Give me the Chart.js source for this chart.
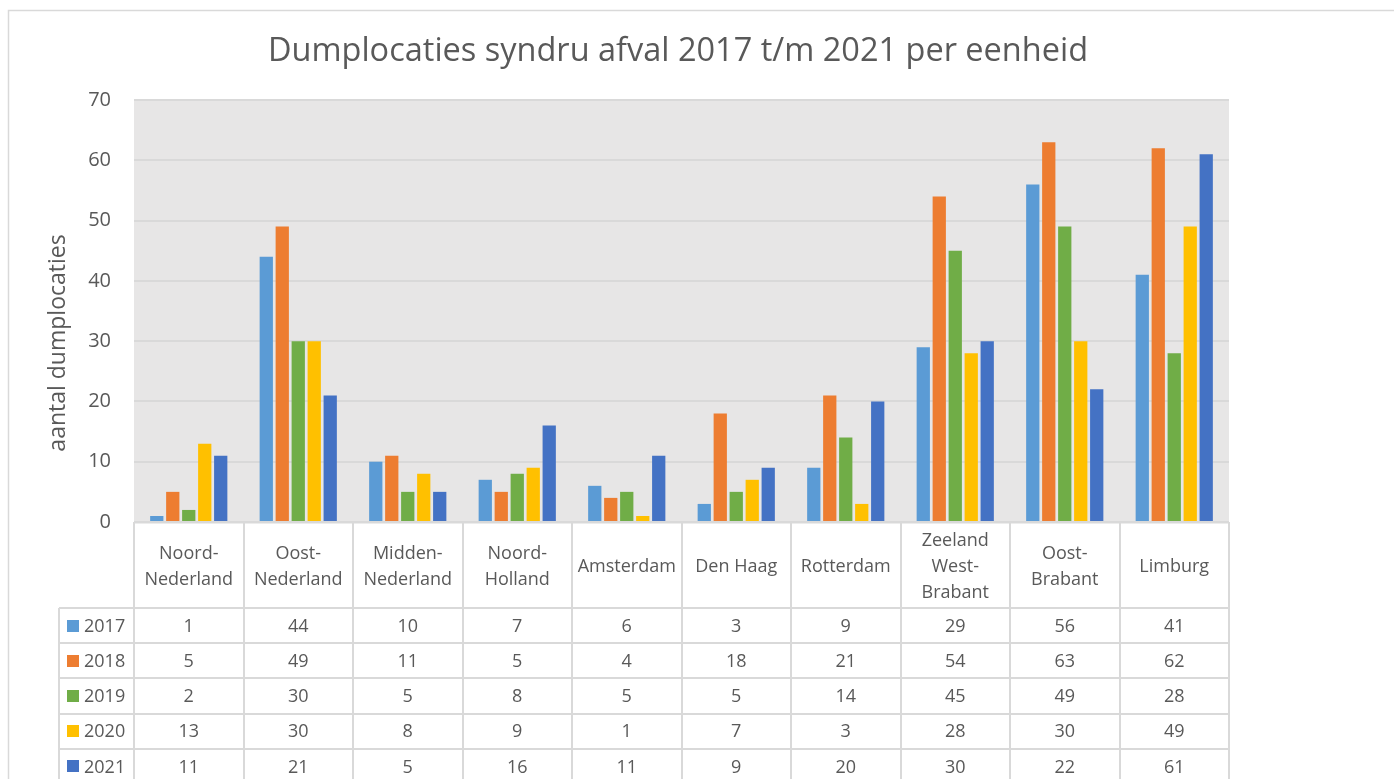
<!DOCTYPE html>
<html>
<head>
<meta charset="utf-8">
<script src="https://cdn.jsdelivr.net/npm/chart.js@4/dist/chart.umd.min.js"></script>
<style>
html,body{margin:0;padding:0;background:#fff;}
#wrap{position:relative;width:1394px;height:779px;}
</style>
</head>
<body>
<div id="wrap"><canvas id="c" width="1394" height="779"></canvas></div>
<script>
const categories = [
  ['Noord-','Nederland'], ['Oost-','Nederland'], ['Midden-','Nederland'], ['Noord-','Holland'],
  ['Amsterdam'], ['Den Haag'], ['Rotterdam'], ['Zeeland','West-','Brabant'], ['Oost-','Brabant'], ['Limburg']
];
const years = ['2017','2018','2019','2020','2021'];
const v2017 = [1, 44, 10, 7, 6, 3, 9, 29, 56, 41];
const v2018 = [5, 49, 11, 5, 4, 18, 21, 54, 63, 62];
const v2019 = [2, 30, 5, 8, 5, 5, 14, 45, 49, 28];
const v2020 = [13, 30, 8, 9, 1, 7, 3, 28, 30, 49];
const v2021 = [11, 21, 5, 16, 11, 9, 20, 30, 22, 61];
const yTicks = [0, 10, 20, 30, 40, 50, 60, 70];
const titleText = 'Dumplocaties syndru afval 2017 t/m 2021 per eenheid';
const yTitleText = 'aantal dumplocaties';

const colors = ['#5b9bd5', '#ed7d31', '#70ad47', '#ffc000', '#4472c4'];
const seriesValues = [v2017, v2018, v2019, v2020, v2021];

const FONT = '"Open Sans", sans-serif';
const TEXT = '#595959';
const LINE = '#d9d9d9';

const ROW_TOP = 608;
const ROW_H = 35.2;
const LEG_LEFT = 59;

const decor = {
  id: 'decor',
  beforeDraw(chart) {
    const ctx = chart.ctx, a = chart.chartArea;
    ctx.save();
    ctx.fillStyle = '#ffffff';
    ctx.fillRect(0, 0, chart.width, chart.height);
    ctx.fillStyle = '#e7e6e6';
    ctx.fillRect(a.left, a.top, a.right - a.left, a.bottom - a.top);
    ctx.strokeStyle = LINE;
    ctx.lineWidth = 1.5;
    ctx.beginPath();
    ctx.moveTo(8.5, chart.height + 5);
    ctx.lineTo(8.5, 10.5);
    ctx.lineTo(chart.width + 5, 10.5);
    ctx.stroke();
    ctx.restore();
  },
  afterDraw(chart) {
    const ctx = chart.ctx, a = chart.chartArea, xs = chart.scales.x;
    const n = categories.length;
    const bw = (a.right - a.left) / n;
    const bottom = ROW_TOP + ROW_H * years.length;
    ctx.save();
    ctx.strokeStyle = LINE;
    ctx.lineWidth = 2;
    ctx.beginPath();
    ctx.moveTo(a.left, a.bottom + 0.5); ctx.lineTo(a.right, a.bottom + 0.5);
    for (let i = 0; i <= n; i++) {
      const x = i === n ? xs.getPixelForValue(n - 1) + bw / 2 : xs.getPixelForValue(i) - bw / 2;
      ctx.moveTo(Math.round(x), a.bottom); ctx.lineTo(Math.round(x), bottom);
    }
    ctx.moveTo(LEG_LEFT, ROW_TOP); ctx.lineTo(LEG_LEFT, bottom);
    for (let r = 0; r <= years.length; r++) {
      const y = Math.round(ROW_TOP + r * ROW_H);
      ctx.moveTo(LEG_LEFT, y); ctx.lineTo(a.right, y);
    }
    ctx.stroke();

    ctx.fillStyle = TEXT;
    ctx.font = '18px ' + FONT;
    ctx.textBaseline = 'middle';
    for (let r = 0; r < years.length; r++) {
      const cy = ROW_TOP + r * ROW_H + ROW_H / 2;
      ctx.fillStyle = colors[r];
      ctx.fillRect(67, Math.round(cy - 6), 12, 12);
      ctx.fillStyle = TEXT;
      ctx.textAlign = 'left';
      ctx.fillText(years[r], 84, cy + 1);
      ctx.textAlign = 'center';
      for (let i = 0; i < n; i++) {
        ctx.fillText(String(seriesValues[r][i]), xs.getPixelForValue(i), cy + 1);
      }
    }

    ctx.font = '32.5px ' + FONT;
    ctx.textAlign = 'center';
    ctx.textBaseline = 'middle';
    ctx.fillText(titleText, 678, 52);

    ctx.translate(58, 343);
    ctx.rotate(-Math.PI / 2);
    ctx.font = '23px ' + FONT;
    ctx.fillText(yTitleText, 0, 0);
    ctx.restore();
  }
};

new Chart(document.getElementById('c'), {
  type: 'bar',
  data: {
    labels: categories,
    datasets: years.map((y, i) => ({
      label: y,
      data: seriesValues[i],
      backgroundColor: colors[i],
      borderWidth: 0,
      categoryPercentage: 0.73,
      barPercentage: 0.83
    }))
  },
  options: {
    responsive: false,
    animation: false,
    devicePixelRatio: 1,
    layout: { padding: { left: 0, right: 165, top: 100, bottom: 171 } },
    plugins: {
      legend: { display: false },
      title: { display: false },
      tooltip: { enabled: false }
    },
    scales: {
      x: {
        grid: { display: false, drawTicks: false },
        border: { display: false },
        afterFit(s) { s.height = 86; },
        ticks: {
          color: TEXT,
          font: { family: FONT, size: 18, lineHeight: 1.45 },
          padding: 19,
          crossAlign: 'center',
          maxRotation: 0,
          autoSkip: false
        }
      },
      y: {
        min: 0,
        max: 70,
        afterFit(s) { s.width = 134; },
        afterBuildTicks(s) { s.ticks = yTicks.map(v => ({ value: v })); },
        grid: { color: LINE, lineWidth: 2, drawTicks: false },
        border: { display: false },
        ticks: {
          color: TEXT,
          font: { family: FONT, size: 20 },
          padding: 23
        }
      }
    }
  },
  plugins: [decor]
});
</script>
</body>
</html>
